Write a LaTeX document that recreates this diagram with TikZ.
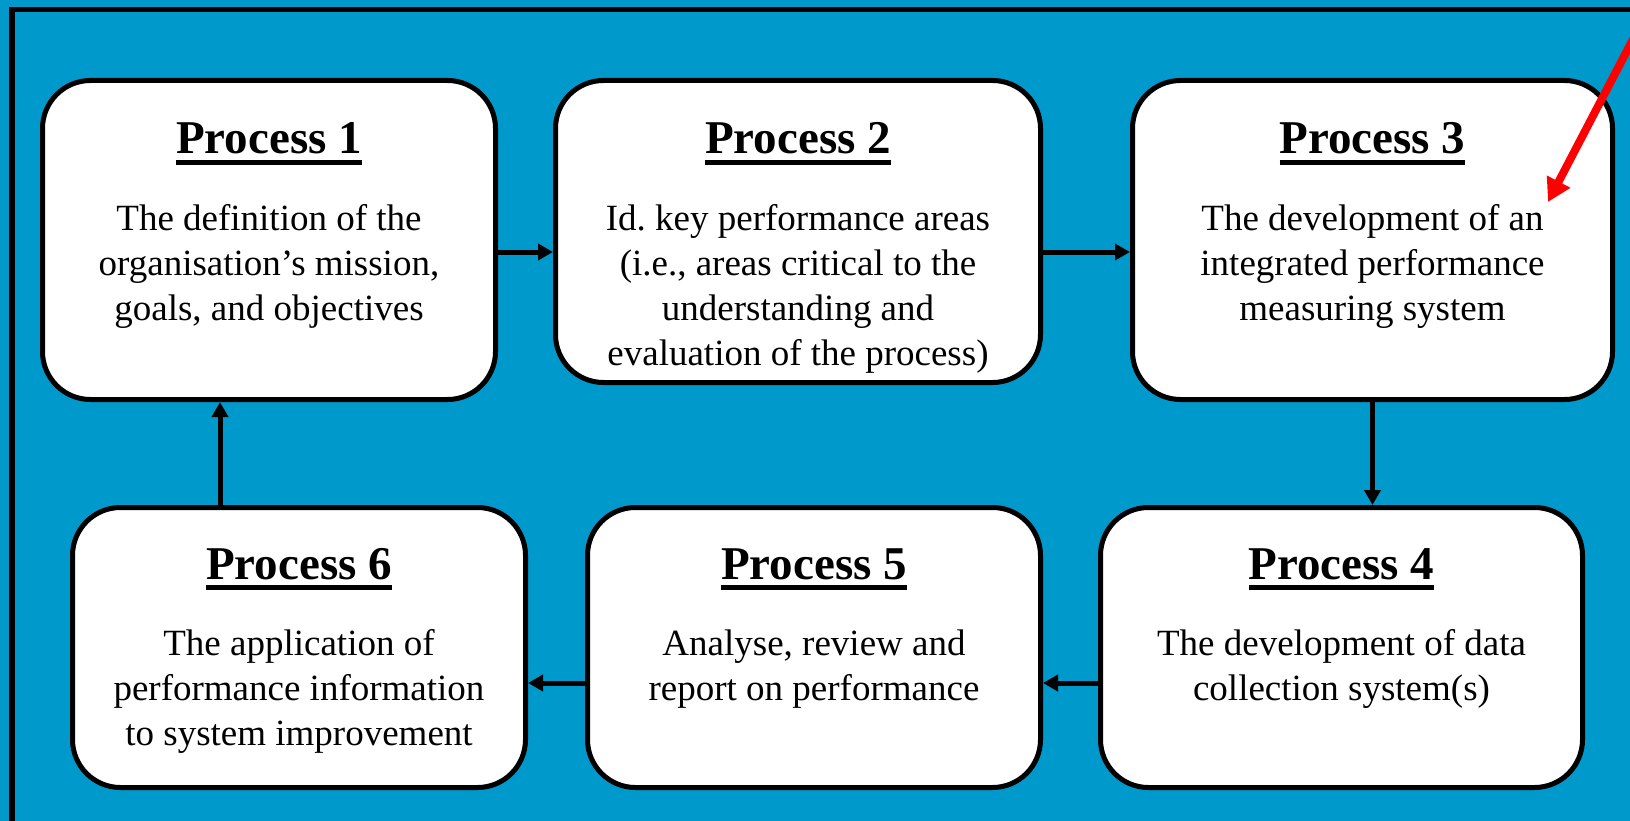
\documentclass[tikz,border=0pt]{standalone}
\usepackage{fontspec}
\setmainfont{Liberation Serif}
\usetikzlibrary{arrows.meta,calc}
\frenchspacing

\definecolor{bgblue}{HTML}{0099CC}
\definecolor{pointer}{HTML}{FF0000}

% heading with a thick underline
\newcommand\headline[1]{\setbox0\hbox{#1}\rlap{\rule[-10.7pt]{\wd0}{4.4pt}}\box0}

\begin{document}
\begin{tikzpicture}[x=1pt,y=-1pt,
  procbox/.style={draw=black, line width=5pt, fill=white, rounded corners=48pt,
    inner sep=0pt, outer sep=2.5pt},
  headtext/.style={anchor=base, inner sep=0pt, font=\fontsize{47}{56}\selectfont\bfseries},
  % the base anchor sits on the last line of a multi-line text
  bodytext/.style={anchor=base, inner sep=0pt, align=center, font=\fontsize{37}{45}\selectfont},
  flow/.style={draw=black, line width=5pt, -{Triangle[length=15pt,width=16pt]}},
  pointerline/.style={draw=pointer, line width=8pt, -{Triangle[length=23pt,width=25pt]}}]

\useasboundingbox (0,0) rectangle (1630,821);
\clip (0,0) rectangle (1630,821);
\fill[bgblue] (0,0) rectangle (1630,821);

% outer frame (runs off the right and bottom edges)
\draw[line width=5.5pt] (12,840) -- (12,9.5) -- (1650,9.5);

% process boxes
\node[procbox, minimum width=453pt, minimum height=319pt] (p1) at (269,240) {};
\node[procbox, minimum width=485pt, minimum height=302pt] (p2) at (798,231.5) {};
\node[procbox, minimum width=480pt, minimum height=319pt] (p3) at (1372.5,240) {};
\node[procbox, minimum width=482pt, minimum height=280pt] (p4) at (1341.5,647.5) {};
\node[procbox, minimum width=453pt, minimum height=280pt] (p5) at (814,647.5) {};
\node[procbox, minimum width=453pt, minimum height=280pt] (p6) at (299,647.5) {};

% headings
\node[headtext] (h1) at ($(p1.north)+(0,76)$) {\headline{Process 1}};
\node[headtext] (h2) at ($(p2.north)+(0,76)$) {\headline{Process 2}};
\node[headtext] (h3) at ($(p3.north)+(0,76)$) {\headline{Process 3}};
\node[headtext] (h4) at ($(p4.north)+(0,74)$) {\headline{Process 4}};
\node[headtext] (h5) at ($(p5.north)+(0,74)$) {\headline{Process 5}};
\node[headtext] (h6) at ($(p6.north)+(0,74)$) {\headline{Process 6}};

% descriptions (placed by their last baseline; lines are 45pt apart)
\node[bodytext] (t1) at ($(p1.north)+(0,242)$) {The definition of the\\organisation’s mission,\\goals, and objectives};
\node[bodytext] (t2) at ($(p2.north)+(0,287)$) {Id. key performance areas\\(i.e., areas critical to the\\understanding and\\evaluation of the process)};
\node[bodytext] (t3) at ($(p3.north)+(0,242)$) {The development of an\\integrated performance\\measuring system};
\node[bodytext] (t4) at ($(p4.north)+(0,195)$) {The development of data\\collection system(s)};
\node[bodytext] (t5) at ($(p5.north)+(0,195)$) {Analyse, review and\\report on performance};
\node[bodytext] (t6) at ($(p6.north)+(0,240)$) {The application of\\performance information\\to system improvement};

% flow between processes
\draw[flow] (p1.east |- 0,252) -- (p2.west |- 0,252);
\draw[flow] (p2.east |- 0,252) -- (p3.west |- 0,252);
\draw[flow] (p3.south) -- (p4.north -| p3.south);
\draw[flow] (p4.west |- 0,683) -- (p5.east |- 0,683);
\draw[flow] (p5.west |- 0,683) -- (p6.east |- 0,683);
\draw[flow] (p6.north -| 220,0) -- (p1.south -| 220,0);

% red pointer
\coordinate (ptrstart) at (1642,22);
\coordinate (ptrend) at (1548,202);
\draw[pointerline] (ptrstart) -- (ptrend);
\end{tikzpicture}
\end{document}
